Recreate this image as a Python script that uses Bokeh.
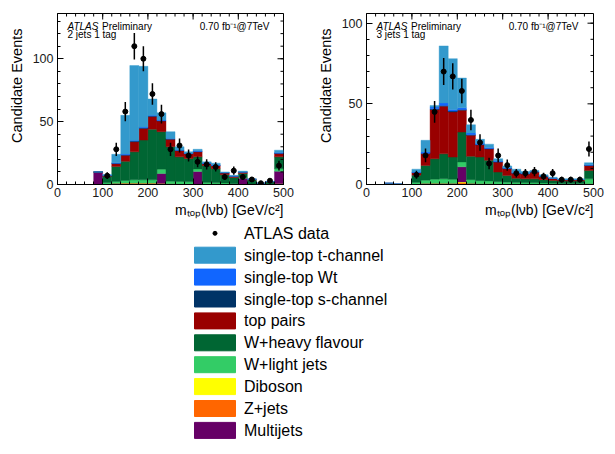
import math
from bokeh.plotting import figure
from bokeh.models import ColumnDataSource, FixedTicker, Label, Range1d, Title
from bokeh.layouts import column, row
from bokeh.embed import file_html
from bokeh.resources import INLINE
from bokeh.core.properties import value

# ---------------- data ----------------
bin_centers = [10 + 20 * i for i in range(25)]   # m_top bins, 20 GeV wide, 0-500
x_ticks = [0, 100, 200, 300, 400, 500]
x_minor = list(range(0, 501, 20))
y_ticks = [0, 50, 100]

# stack components (bottom -> top)
names = ["zjets", "diboson", "multijets", "wlight", "wheavy", "toppairs", "schan", "wt", "tchan"]
labels = ["single-top t-channel", "single-top Wt", "single-top s-channel", "top pairs",
          "W+heavy flavour", "W+light jets", "Diboson", "Z+jets", "Multijets"]
legend_colors = ["#3399cc", "#1166ff", "#003366", "#990000", "#006633",
                 "#33cc66", "#ffff00", "#ff6600", "#660066"]
stack_colors = ["#ff6600", "#ffff00", "#660066", "#33cc66", "#006633",
                "#990000", "#003366", "#1166ff", "#3399cc"]

# 2 jets 1 tag
zjets_2j    = [0, 0, 0, 0, 0, .3, .7, 1, 1, 1, 1, .5, .5, .3, .3, .3, .3, .2, .2, 0, 0, 0, 0, 0, .3]
diboson_2j  = [0, 0, 0, 0, 0, 0, .2, .2, .2, .2, .2, .2, .1, .1, .1, .1, .1, .1, 0, 0, 0, 0, 0, 0, .2]
multijet_2j = [0, 0, 0, 0, 10, 0, 0, 0, 0, 0, 0, 8, 0, 0, 0, 10, 0, 0, 0, 0, 5, 0, 0, 0, 10]
wlight_2j   = [0, 0, 0, 0, 0, 1, 1.5, 2, 2.5, 2.5, 2.5, 3.5, 2, 2, 1.7, 2, 1.2, 1, 1, .6, .5, .3, 0, 0, 2]
wheavy_2j   = [0, 0, 0, 0, 0, 5.2, 12, 15.2, 22.3, 31.6, 40.3, 29.8, 27.4, 19.6, 18.5, 9.6, 13.4, 11.3, 6.5, 4.9, 3.2, 3.2, .8, 2, 9.5]
toppairs_2j = [0, 0, 0, 0, 0, .5, 2.2, 4.8, 8, 9.3, 10, 8.5, 6, 5, 3.8, 4, 1.6, 2.4, 1.5, 1, 1.1, .6, .2, .3, 2.6]
schan_2j    = [0, 0, 0, 0, 0, .1, .3, .4, .5, .5, .5, .3, .3, .2, .2, .3, .2, .2, .1, 0, 0, 0, 0, 0, .3]
wt_2j       = [0, 0, 0, 0, 0, .2, .4, .6, .7, .6, .5, .5, .3, .3, .3, .5, .3, .3, .2, .2, .2, .1, 0, 0, .5]
tchan_2j    = [0, 0, 0, 0, 0, .7, 6.7, 30.8, 59.4, 48.3, 13, 5.7, 5.4, 2.5, 1.1, 1.2, .9, 1.5, .5, .5, .6, .3, .1, .3, 1.9]
data_2j     = [0, 0, 0, 0, 0, 7, 28, 58, 110, 100, 72, 56, 28, 31, 23, 18, 16, 14, 6, 11, 6, 4, 1, 3, 15]

# 3 jets 1 tag
zjets_3j    = [0, 0, 0, 0, 0, .3, .5, .6, .6, .5, 1, .5, .4, .4, .3, .2, .2, .2, .2, .1, 0, 0, 0, 0, .3]
diboson_3j  = [0, 0, 0, 0, 0, 0, .2, .2, .2, .2, .5, .2, 0, 0, 0, 0, 0, 0, 0, 0, 0, 0, 0, 0, .2]
multijet_3j = [0, 0, 0, 0, 0, 0, 0, 0, 0, 0, 9.5, 0, 0, 0, 0, 0, 0, 0, 0, 0, 0, 0, 0, 0, 0]
wlight_3j   = [0, 0, 0, 0, 0, 1, 2, 2.5, 2.7, 2.5, 3, 2.3, 2, 1.8, 1.4, 1.2, 1, .9, .9, .8, .7, .6, .6, .6, 3]
wheavy_3j   = [0, 0, 0, 0, 0, 4.5, 9.1, 12.7, 15.5, 13.8, 18.5, 14.5, 14.6, 12.8, 6, 4.2, 2.6, 2.4, 2.4, 2.1, 1.8, 1.5, 1.5, 1.5, 5.2]
toppairs_3j = [0, 0, .8, .3, 0, 1.5, 7.2, 30.4, 29.5, 28, 13.5, 13, 7.5, 7, 6.2, 4.2, 3.2, 3.1, 4.2, 2, 1.2, .9, .9, .9, 3.1]
schan_3j    = [0, 0, 0, 0, 0, .2, .4, .5, .5, .5, .5, .4, .3, .3, .2, .2, .1, .1, .1, .1, 0, 0, 0, 0, .1]
wt_3j       = [0, 0, 0, 0, 0, .3, .8, 1.1, 1.5, 1, 1, 1.1, .7, .7, .5, .4, .4, .3, .3, .2, .2, .1, .1, .1, .3]
tchan_3j    = [0, 0, 0, 0, 0, 1.7, 7.2, 1, 35.4, 31.5, 18.5, 5, 2.5, 2, 1.4, 1.1, 2, 1, .6, .7, .6, .4, .4, .4, 1.3]
data_3j     = [0, 0, 0, 0, 0, 6, 18, 45, 70, 67, 58, 40, 26, 13, 18, 12, 7, 7, 8, 5, 7, 3, 3, 3, 22]

FONT = "Liberation Sans"
OFF = 8          # page margin that is not applied by the page itself
FRAME_H = 171


def make_panel(comps, data, ymax, tag, width, bl, br, frame_w):
    p = figure(width=width, height=216 + OFF, x_range=Range1d(0, 500), y_range=Range1d(0, ymax),
               output_backend="svg", toolbar_location=None,
               min_border_left=bl, min_border_right=br, min_border_top=5 + OFF, min_border_bottom=40)
    p.grid.visible = False
    p.outline_line_color = "black"
    p.outline_line_width = 1

    src = ColumnDataSource(dict(x=bin_centers, **{n: c for n, c in zip(names, comps)}))
    p.vbar_stack(names, x="x", width=20, source=src,
                 fill_color=stack_colors, line_color=stack_colors, line_width=0.4)

    xs = [c for c, d in zip(bin_centers, data) if d > 0]
    ds = [d for d in data if d > 0]
    lo = [d - math.sqrt(d) for d in ds]
    hi = [d + math.sqrt(d) for d in ds]
    p.segment(x0=xs, x1=xs, y0=lo, y1=hi, line_color="black", line_width=1.5)
    p.scatter(xs, ds, size=5, color="black")

    y_minor = list(range(0, int(ymax) + 1, 10))
    xt = FixedTicker(ticks=x_ticks, minor_ticks=x_minor)
    yt = FixedTicker(ticks=y_ticks, minor_ticks=y_minor)

    for ax in (p.xaxis[0], p.yaxis[0]):
        ax.major_tick_in = 6
        ax.major_tick_out = 0
        ax.minor_tick_in = 3
        ax.minor_tick_out = 0
        ax.axis_line_color = "black"
        ax.major_tick_line_color = "black"
        ax.minor_tick_line_color = "black"
        ax.major_label_text_font = FONT
        ax.major_label_text_font_size = "12.5px"
        ax.major_label_text_color = "#1a1a1a"
    p.xaxis[0].ticker = xt
    p.xaxis[0].major_label_standoff = 3
    p.yaxis[0].ticker = yt
    p.yaxis[0].major_label_standoff = 4

    # mirrored ticks on top and right edges (ROOT style)
    dy = ymax / FRAME_H
    dx = 500 / frame_w
    p.segment(x0=x_ticks, x1=x_ticks, y0=[ymax] * len(x_ticks), y1=[ymax - 6 * dy] * len(x_ticks),
              line_color="black", line_width=1)
    p.segment(x0=x_minor, x1=x_minor, y0=[ymax] * len(x_minor), y1=[ymax - 3 * dy] * len(x_minor),
              line_color="black", line_width=1)
    p.segment(x0=[500] * len(y_ticks), x1=[500 - 6 * dx] * len(y_ticks), y0=y_ticks, y1=y_ticks,
              line_color="black", line_width=1)
    p.segment(x0=[500] * len(y_minor), x1=[500 - 3 * dx] * len(y_minor), y0=y_minor, y1=y_minor,
              line_color="black", line_width=1)

    def lab(text, x, y, size, align="left", style="normal"):
        p.add_layout(Label(x=x, y=y, x_units="screen", y_units="screen", text=text,
                           text_font=FONT, text_font_size=size, text_align=align,
                           text_baseline="alphabetic", text_font_style=style,
                           text_color="black"))

    # header texts
    lab("ATLAS", 10, FRAME_H - 12.7, "10px", style="italic")
    lab("Preliminary", 44.5, FRAME_H - 12.7, "10px")
    lab(tag, 10, FRAME_H - 21.2, "10px")
    lab("0.70 fb\u207b\u00b9@7TeV", 212, FRAME_H - 12.7, "10px", align="right")

    # axis titles
    p.add_layout(Title(text="Candidate Events", align="right", offset=15, standoff=10,
                       text_font=FONT, text_font_size="14.5px", text_font_style="normal",
                       text_color="black"), "left")
    p.add_layout(Title(text="m\u209c\u2092\u209a(l\u03bdb) [GeV/c\u00b2]", align="right", standoff=0,
                       text_font=FONT, text_font_size="14px", text_font_style="normal",
                       text_color="black"), "below")
    return p


p1 = make_panel([zjets_2j, diboson_2j, multijet_2j, wlight_2j, wheavy_2j, toppairs_2j, schan_2j, wt_2j, tchan_2j],
                data_2j, 136, "2 jets 1 tag", 300 + OFF, 49 + OFF, 25, 226)
p2 = make_panel([zjets_3j, diboson_3j, multijet_3j, wlight_3j, wheavy_3j, toppairs_3j, schan_3j, wt_3j, tchan_3j],
                data_3j, 106, "3 jets 1 tag", 299, 58, 14, 227)

# ---------------- legend ----------------
LW, LH = 599 + OFF, 220
pl = figure(width=LW, height=LH, x_range=Range1d(0, LW), y_range=Range1d(LH, 0),
            output_backend="svg", toolbar_location=None, min_border=0)
pl.axis.visible = False
pl.grid.visible = False
pl.outline_line_color = None

row_pitch = 21.9
first_row = 8.8
box_cx, box_w, box_h = 206.5 + OFF, 41, 16
text_x = 235.5 + OFF
ys = [first_row + row_pitch * (i + 1) for i in range(len(labels))]
pl.rect(x=[box_cx] * len(labels), y=ys, width=box_w, height=box_h,
        fill_color=legend_colors, line_color=legend_colors)
pl.scatter([box_cx], [first_row], size=4, color="black")
pl.text(x=[text_x] * (len(labels) + 1), y=[first_row] + ys, text=["ATLAS data"] + labels,
        text_font=value(FONT), text_font_size=value("16px"), text_baseline="middle",
        text_color="black")

layout = column(row(p1, p2), pl)
open("out.html", "w").write(file_html(layout, INLINE))
